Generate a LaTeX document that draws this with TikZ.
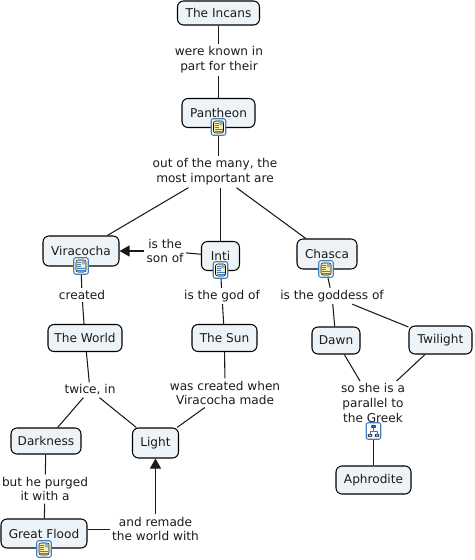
\documentclass[tikz,border=0pt]{standalone}
\usepackage{fontspec}
\setmainfont{DejaVu Sans}
\usetikzlibrary{arrows.meta}
\definecolor{conceptfill}{HTML}{EDF3F6}
\definecolor{iconblue}{HTML}{3F7FBF}
\definecolor{pagefill}{HTML}{F6F0A8}
\definecolor{inkdark}{HTML}{1A1A1A}
\newcommand{\docglyph}{%
  \begin{scope}[shift={(path picture bounding box.center)}]
    \fill[pagefill, draw=black, line width=0.3pt] (-5,-6) rectangle (5,6);
    \fill[iconblue!60] (0.5,-5.5) rectangle (4.5,-1.5);
    \foreach \yy in {-4,-2,0} {\draw[line width=0.4pt] (-4,\yy) -- (0,\yy);}
    \foreach \yy in {2,4} {\draw[line width=0.4pt] (-4,\yy) -- (4,\yy);}
  \end{scope}}
\newcommand{\mapglyph}{%
  \begin{scope}[shift={(path picture bounding box.center)}]
    \draw[line width=0.35pt] (0,-3) -- (0,0) (-3.5,0) -- (3.5,0) (-3.5,0) -- (-3.5,3) (3.5,0) -- (3.5,3);
    \fill[iconblue, draw=black, line width=0.25pt] (-2,-6) rectangle (2,-3);
    \fill[iconblue!50, draw=black, line width=0.25pt] (-5.5,3) rectangle (-1.5,6);
    \fill[iconblue!50, draw=black, line width=0.25pt] (1.5,3) rectangle (5.5,6);
  \end{scope}}
\begin{document}
\begin{tikzpicture}[
  x=0.02cm, y=-0.02cm,
  font=\fontsize{6.9}{8.5}\selectfont,
  text=inkdark,
  >={Triangle[width=0.22cm, length=0.2cm]},
  concept/.style={draw, rounded corners=0.12cm, fill=conceptfill, line width=0.6pt, inner sep=0pt, minimum height=0.56cm},
  link/.style={align=center, inner sep=0.04cm},
  doc/.style={draw=iconblue, rounded corners=0.04cm, fill=white, line width=0.6pt, minimum width=0.29cm, minimum height=0.33cm, inner sep=0pt, path picture={\docglyph}},
  tree/.style={draw=iconblue, rounded corners=0.04cm, fill=white, line width=0.6pt, minimum width=0.29cm, minimum height=0.33cm, inner sep=0pt, path picture={\mapglyph}},
  arrow/.style={line width=0.6pt, draw=inkdark}
]
\useasboundingbox (0,0) rectangle (474,560);

\node[concept, minimum width=1.64cm, minimum height=0.48cm] (incans) at (218.5,13) {The Incans};
\node[concept, minimum width=1.46cm, minimum height=0.58cm] (pantheon) at (218.5,113) {Pantheon};
\node[concept, minimum width=1.52cm, minimum height=0.6cm] (viracocha) at (81,251) {Viracocha};
\node[concept, minimum width=0.76cm, minimum height=0.58cm] (inti) at (220.5,256) {Inti};
\node[concept, minimum width=1.2cm, minimum height=0.6cm] (chasca) at (327,254) {Chasca};
\node[concept, minimum width=1.48cm, minimum height=0.54cm] (world) at (85,338) {The World};
\node[concept, minimum width=1.3cm, minimum height=0.54cm] (sun) at (224.5,338) {The Sun};
\node[concept, minimum width=0.96cm, minimum height=0.54cm] (dawn) at (336,340.5) {Dawn};
\node[concept, minimum width=1.26cm, minimum height=0.56cm] (twilight) at (440.5,340) {Twilight};
\node[concept, minimum width=1.4cm, minimum height=0.52cm] (darkness) at (46,441) {Darkness};
\node[concept, minimum width=0.92cm, minimum height=0.6cm] (light) at (155.5,443) {Light};
\node[concept, minimum width=1.72cm, minimum height=0.58cm] (flood) at (44,533.5) {Great Flood};
\node[concept, minimum width=1.5cm, minimum height=0.56cm] (aphrodite) at (373.5,480) {Aphrodite};

\node[doc] (pantheonicon) at (218.5,127) {};
\node[doc] (viracochaicon) at (81,266) {};
\node[doc] (intiicon) at (220.5,270) {};
\node[doc] (chascaicon) at (326,269) {};
\node[doc] (floodicon) at (44,549) {};

\node[link] (known) at (219,60) {were known in\\part for their};
\node[link] (many) at (215,172) {out of the many, the\\most important are};
\node[link] (son) at (165,251) {is the\\son of};
\node[link] (created) at (82,295) {created};
\node[link] (god) at (222,296) {is the god of};
\node[link] (goddess) at (332,296) {is the goddess of};
\node[link] (twice) at (90,390) {twice, in};
\node[link] (made) at (225,393) {was created when\\Viracocha made};
\node[link] (parallel) at (373,403) {so she is a\\parallel to\\the Greek};
\node[link] (purged) at (45,489) {but he purged\\it with a};
\node[link] (remade) at (155.5,529) {and remade\\the world with};

\node[tree] (parallelicon) at (373.5,431) {};

\draw[arrow] (incans) -- (incans |- known.north);
\draw[arrow] (incans |- known.south) -- (pantheon);
\draw[arrow] (pantheonicon) -- (pantheonicon |- many.north);
\draw[arrow] (many) -- (viracocha);
\draw[arrow] (inti |- many.south) -- (inti);
\draw[arrow] (many) -- (chasca);
\draw[arrow] (inti) -- (son);
\draw[arrow, ->] (son) -- (viracocha);
\draw[arrow] (viracochaicon) -- (created);
\draw[arrow] (created) -- (world);
\draw[arrow] (intiicon) -- (god);
\draw[arrow] (god) -- (sun);
\draw[arrow] (chascaicon) -- (goddess);
\draw[arrow] (goddess) -- (dawn);
\draw[arrow] (goddess) -- (twilight);
\draw[arrow] (world) -- (twice);
\draw[arrow] (twice) -- (darkness);
\draw[arrow] (twice) -- (light);
\draw[arrow] (sun) -- (made);
\draw[arrow] (made) -- (light);
\draw[arrow] (dawn) -- (parallel);
\draw[arrow] (twilight) -- (parallel);
\draw[arrow] (parallelicon) -- (aphrodite);
\draw[arrow] (darkness) -- (purged);
\draw[arrow] (purged) -- (flood);
\draw[arrow] (flood.5) -- (flood.5 -| remade.west);
\draw[arrow, ->] (remade) -- (light);
\end{tikzpicture}
\end{document}
